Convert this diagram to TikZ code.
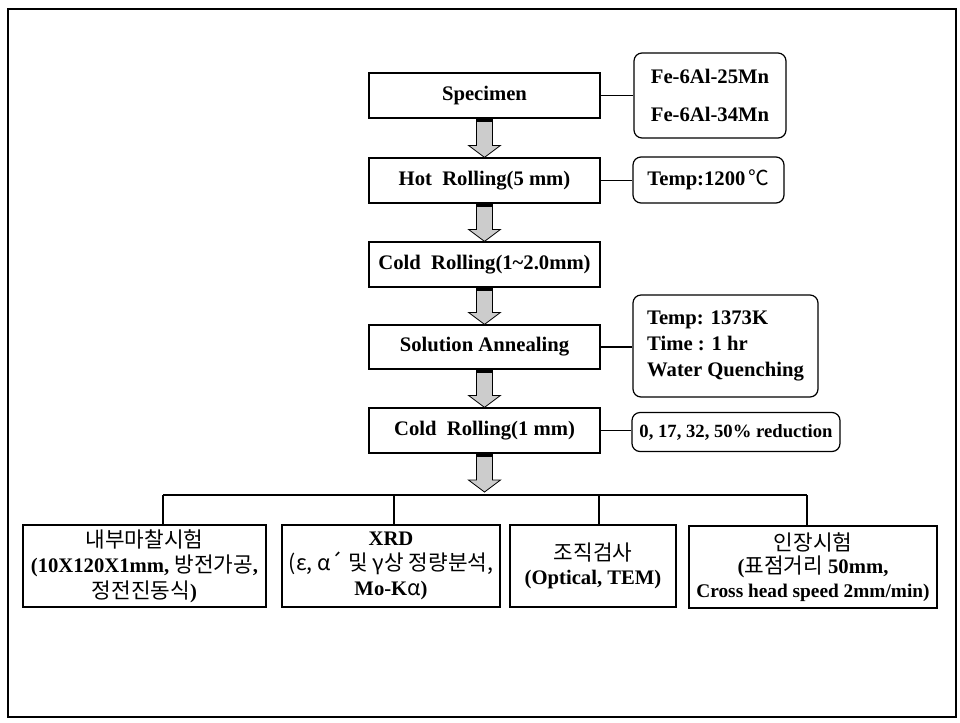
\documentclass[tikz,border=0pt]{standalone}
\usepackage{fontspec}
\setmainfont{Liberation Serif}
\newfontfamily\kr{Noto Sans CJK KR}
\usetikzlibrary{calc}
\newcommand\kor[1]{{\kr\mdseries\fontsize{16}{19}\selectfont #1}}
\newcommand\flowarrow[2]{%
  \draw[farrow] let \p1=(#1), \p2=(#2) in
    (\x1-6pt,\y1) -- (\x1+6pt,\y1) -- (\x1+6pt,\y2+9pt) -- (\x1+12pt,\y2+9pt)
    -- (\x1,\y2) -- (\x1-12pt,\y2+9pt) -- (\x1-6pt,\y2+9pt) -- cycle;
  \fill let \p1=(#1) in (\x1-6pt,\y1) rectangle (\x1+6pt,\y1-2.5pt);
}
\begin{document}
\begin{tikzpicture}[x=0.75pt,y=-0.75pt,
  mbox/.style={draw, line width=0.9pt, minimum width=173.25pt, minimum height=33.75pt,
    inner sep=0pt, font=\bfseries\fontsize{15.5}{18}\selectfont},
  sbox/.style={draw, line width=0.9pt, rounded corners=6pt, inner sep=0pt,
    font=\bfseries\fontsize{15.5}{19.5}\selectfont},
  bbox/.style={draw, line width=0.9pt, minimum height=61.5pt, inner sep=0pt, align=center,
    font=\bfseries\fontsize{15.5}{19}\selectfont},
  conn/.style={line width=0.8pt},
  farrow/.style={draw=black, line width=0.6pt, fill=black!20}]
\useasboundingbox (0,0) rectangle (960,722);
\draw[line width=1.8pt] (8,9) rectangle (956,717);

% main column
\node[mbox] (spec) at (484.5,95.5) {Specimen};
\node[mbox] (hot) at (484.5,180.5) {Hot~~Rolling(5 mm)};
\node[mbox] (cold1) at (484.5,264.5) {Cold~~Rolling(1\textasciitilde2.0mm)};
\node[mbox, minimum height=33pt] (sol) at (484.5,347) {Solution Annealing};
\node[mbox] (cold2) at (484.5,430.5) {Cold~~Rolling(1 mm)};

% side notes
\node[sbox, minimum width=114pt, minimum height=63.75pt, align=left] (fe) at (710,95.5)
  {Fe-6Al-25Mn\\[9.5pt]Fe-6Al-34Mn};
\node[sbox, minimum width=113.25pt, minimum height=34.5pt] (t1200) at (708.5,180)
  {Temp:1200\,{\kr\mdseries ℃}};
\node[sbox, minimum width=138.75pt, minimum height=76.5pt, align=left] (t1373) at (725.5,346)
  {Temp: 1373K\\Time : 1 hr\\Water Quenching};
\node[sbox, minimum width=156pt, minimum height=29.25pt,
  font=\bfseries\fontsize{14}{16}\selectfont] (red) at (736,432) {0, 17, 32, 50\% reduction};

\draw[conn] (spec.east) -- (fe.west);
\draw[conn] (hot.east) -- (hot.east -| t1200.west);
\draw[conn] (sol.east) -- (sol.east -| t1373.west);
\draw[conn] (cold2.east) -- (cold2.east -| red.west);

% flow arrows
\flowarrow{spec.south}{hot.north}
\flowarrow{hot.south}{cold1.north}
\flowarrow{cold1.south}{sol.north}
\flowarrow{sol.south}{cold2.north}
\coordinate (tip) at (484.5,492);
\flowarrow{cold2.south}{tip}

% bottom boxes
\node[bbox, minimum width=182.25pt] (b1) at (144.5,566)
  {\kor{내부마찰시험}\\(10X120X1mm, \kor{방전가공},\\\kor{정전진동식})};
\node[bbox, minimum width=163.5pt] (b2) at (391,566)
  {XRD\\\kor{(ε, α´ 및 γ상 정량분석,}\\Mo-K\kor{α})};
\node[bbox, minimum width=124.5pt, font=\bfseries\fontsize{15.5}{18.5}\selectfont] (b3) at (593,566)
  {\kor{조직검사}\\(Optical, TEM)};
\node[bbox, minimum width=186pt, font=\bfseries\fontsize{15.5}{17.5}\selectfont] (b4) at (813,567)
  {\kor{인장시험}\\(\kor{표점거리} 50mm,\\{\fontsize{14.5}{17.5}\selectfont Cross head speed 2mm/min)}};

% branching
\coordinate (d1) at (163,495);
\coordinate (d2) at (394,495);
\coordinate (d3) at (599,495);
\coordinate (d4) at (807,495);
\draw[conn] (d1) -- (d4);
\draw[conn] (d1) -- (d1 |- b1.north);
\draw[conn] (d2) -- (d2 |- b2.north);
\draw[conn] (d3) -- (d3 |- b3.north);
\draw[conn] (d4) -- (d4 |- b4.north);
\end{tikzpicture}
\end{document}
